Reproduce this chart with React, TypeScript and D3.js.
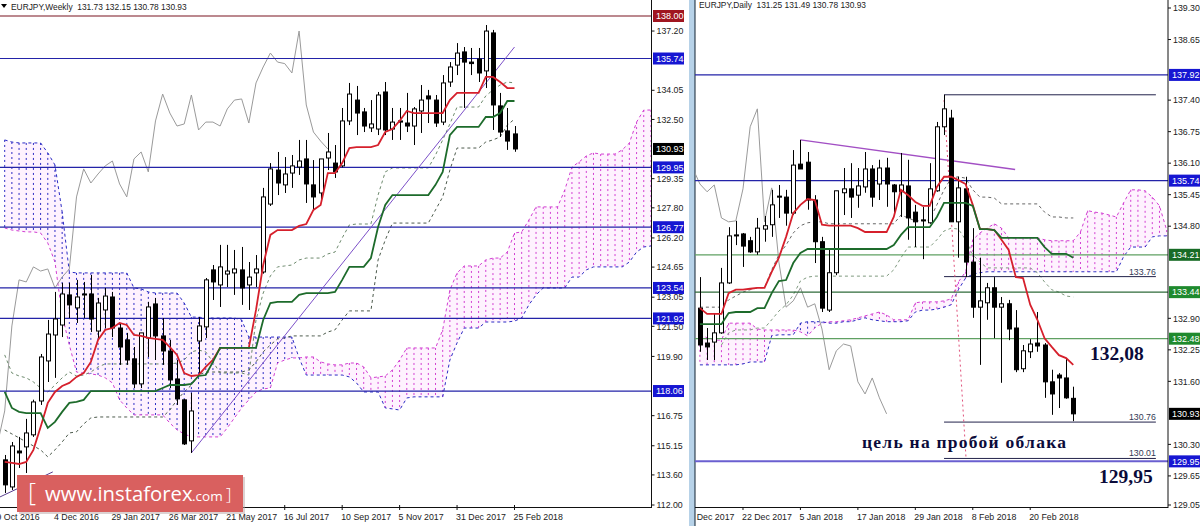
import * as d3 from "d3";

// weekly candles, one per bar
const weeklyOpen = [114.40,112.96,114.87,115.09,115.73,117.53,119.66,121.04,121.57,123.17,122.48,123.22,123.22,121.25,122.37,123.06,121.41,120.78,119.77,118.44,120.88,122.69,120.99,120.19,118.70,117.59,115.41,120.72,121.47,124.50,123.70,124.28,124.34,124.50,123.70,124.34,124.39,128.00,129.81,129.02,129.65,129.97,130.40,129.02,128.59,130.45,130.18,130.03,132.42,133.53,132.90,132.05,131.99,133.96,131.99,132.42,132.31,132.15,132.95,133.75,133.53,132.36,134.49,135.39,136.09,135.55,135.71,135.08,137.10,133.22,131.89,131.73];
const weeklyHigh = [114.66,115.35,115.62,116.58,117.60,120.03,121.84,123.33,123.81,123.81,123.97,123.86,124.23,123.01,123.54,123.33,121.68,121.15,120.40,121.15,122.80,123.01,121.94,120.78,119.71,117.64,117.96,121.99,124.07,124.76,125.83,125.83,125.56,125.72,124.92,125.29,128.86,130.18,130.77,130.50,130.61,131.41,131.41,130.34,130.40,131.78,131.14,133.11,134.44,134.28,133.11,133.53,133.96,134.49,133.11,133.11,133.91,133.16,134.33,134.07,133.80,134.86,135.55,136.56,136.35,136.30,136.30,137.52,137.26,133.91,133.11,132.15];
const weeklyLow = [112.64,112.80,113.97,113.70,115.62,117.32,118.54,118.76,120.93,121.94,121.68,121.94,121.20,120.88,121.41,120.93,119.45,119.45,118.22,118.22,119.87,119.71,119.45,118.22,117.32,115.19,114.77,118.91,120.88,122.90,122.53,123.59,123.17,122.64,122.37,123.59,124.30,127.90,128.48,128.59,128.86,129.55,128.06,127.69,128.22,129.81,129.39,129.95,132.20,131.67,131.83,131.83,131.67,131.67,131.41,131.41,131.83,131.14,131.78,132.31,132.10,132.20,134.23,134.86,133.11,134.86,134.49,134.17,131.94,131.57,130.88,130.78];
const weeklyClose = [113.07,115.14,114.77,115.83,117.48,119.87,121.09,121.89,123.22,122.64,123.06,123.17,121.89,122.74,123.11,121.41,120.40,119.71,118.44,121.15,122.53,120.99,120.19,118.65,117.64,115.25,117.00,121.52,123.97,123.86,124.66,124.44,124.55,123.54,124.12,124.55,128.38,129.87,129.12,129.60,130.03,130.29,129.07,128.38,130.40,130.77,129.71,132.42,133.85,132.84,132.15,132.26,133.80,131.94,132.36,132.36,132.15,133.06,133.53,133.59,132.31,134.44,135.29,136.03,135.55,135.47,134.97,137.20,133.27,131.83,131.35,130.93];

const weeklyTenkan = [114.29,114.24,114.18,114.29,114.93,116.15,117.43,118.01,118.33,118.49,118.81,119.02,119.61,120.78,121.31,121.41,121.68,121.57,121.04,120.99,120.88,120.83,120.78,120.40,119.98,119.02,118.86,118.91,119.34,119.71,120.35,120.35,120.35,120.35,120.35,122.37,124.76,126.36,126.62,126.62,126.62,126.84,126.94,127.69,127.95,129.65,129.65,130.18,130.98,131.03,131.03,131.03,131.14,131.83,131.99,132.42,132.95,132.84,132.84,132.84,132.84,132.84,133.53,133.91,133.91,133.91,133.91,134.76,134.76,134.49,134.17,134.17];
const weeklyKijun = [118.01,117.16,116.95,116.89,116.89,116.89,116.10,116.42,116.95,117.43,117.48,117.59,118.06,118.06,118.06,118.06,118.06,118.06,118.06,118.06,118.06,118.06,118.22,118.38,118.38,118.38,118.44,118.86,118.91,119.61,120.35,120.35,120.35,120.35,120.35,120.35,121.84,122.74,122.80,122.80,122.80,123.17,123.27,123.27,123.27,123.27,123.33,123.97,124.66,124.66,124.66,125.13,126.78,127.95,128.48,128.48,128.48,128.48,128.48,128.48,129.02,129.71,131.67,132.10,132.10,132.10,132.10,132.63,132.63,132.84,133.48,133.48];
const weeklyUpperDash = [119.98,119.02,118.86,118.76,118.54,118.22,118.01,118.38,118.76,119.07,118.86,118.91,119.07,119.34,119.50,119.50,119.50,119.50,119.50,119.50,119.50,119.50,119.50,119.50,119.55,119.71,120.14,120.24,120.14,119.61,119.02,119.02,119.02,119.02,118.91,121.84,123.27,124.18,124.66,124.71,124.76,125.03,125.13,125.13,125.13,125.35,125.45,126.20,126.89,126.94,126.94,126.94,128.48,129.71,129.92,129.92,129.92,129.92,129.92,129.92,130.61,131.41,132.26,133.16,133.16,133.16,133.16,133.75,134.07,134.33,134.49,134.44];
const weeklyLowerDash = [115.99,115.78,115.57,115.35,115.14,114.93,114.56,114.93,115.35,115.83,115.89,116.31,116.63,116.68,116.68,116.68,116.68,116.68,116.68,116.68,116.68,116.68,116.68,117.05,117.59,118.01,118.38,118.91,119.07,119.07,119.07,119.07,119.07,119.07,119.18,119.61,120.14,120.51,120.83,120.88,120.99,120.99,120.99,120.99,120.99,121.20,121.31,121.84,122.32,122.32,122.32,122.32,125.03,126.09,126.99,126.99,126.99,126.99,126.99,126.99,127.69,128.38,129.81,130.98,130.98,130.98,130.98,131.30,131.41,131.57,132.20,132.52];
// lagging line starts one bar before the first candle
const weeklyLagging = [115.25,117.00,121.52,123.97,123.86,124.66,124.44,124.55,123.54,124.12,124.55,128.38,129.87,129.12,129.60,130.03,130.29,129.07,128.38,130.40,130.77,129.71,132.42,133.85,132.84,132.15,132.26,133.80,131.94,132.36,132.36,132.15,133.06,133.53,133.59,132.31,134.44,135.29,136.03,135.55,135.47,134.97,137.20,133.27,131.83,131.35,130.93];
const weeklySpanA = [126.73,126.62,126.57,126.52,126.52,126.46,125.93,124.92,122.10,120.51,119.07,119.02,118.97,118.91,118.76,118.49,117.59,117.16,116.79,116.79,116.79,116.79,116.79,116.36,115.99,115.78,115.62,115.62,115.62,115.62,115.62,116.10,116.63,117.16,117.59,118.01,118.17,118.22,119.55,119.71,119.82,119.82,119.87,119.87,119.61,119.50,119.45,119.45,119.55,119.55,119.34,118.76,118.81,118.86,119.18,119.71,120.35,120.35,120.35,120.35,120.35,121.31,123.43,124.34,124.71,124.71,124.71,125.03,125.13,125.13,125.45,126.46,126.52,127.15,127.85,127.85,127.85,127.85,128.75,129.97,130.24,130.56,130.72,130.66,130.66,130.66,130.88,131.25,132.36,133.00,133.00];
const weeklySpanB = [131.41,131.30,131.25,131.25,131.25,131.25,130.72,130.08,127.58,124.39,124.34,124.34,124.34,124.34,124.34,124.34,124.34,124.34,123.54,123.49,123.33,123.27,123.27,123.27,123.27,122.74,121.99,121.99,121.94,121.94,121.94,121.94,121.94,121.84,120.93,120.93,120.93,120.93,120.93,120.93,120.93,119.82,118.91,118.91,118.91,118.91,118.91,118.91,118.81,118.49,118.01,118.01,118.01,117.16,117.11,117.05,117.69,117.75,117.75,117.75,117.75,117.75,119.71,120.62,121.41,121.41,121.41,121.73,121.73,121.73,121.73,121.78,121.94,122.64,123.17,123.54,123.54,123.54,123.54,124.12,124.12,124.50,124.66,124.66,124.66,124.66,124.66,124.92,125.45,125.72,125.77];

const weeklyBlueLevels = [135.74,129.95,126.77,123.54,121.92,118.06];
const weeklyRedLevels = [138.00];
const weeklyTicks = [137.20,134.05,132.50,129.35,127.80,126.20,124.65,123.05,121.50,119.90,116.75,115.15,113.60,112.00];
const weeklyDateIdx = [-1,7,15,23,31,39,47,55,63,71];
const weeklyDates = ["9 Oct 2016","4 Dec 2016","29 Jan 2017","26 Mar 2017","21 May 2017","16 Jul 2017","10 Sep 2017","5 Nov 2017","31 Dec 2017","25 Feb 2018"];

// daily candles
const dailyOpen = [133.11,132.39,132.41,132.60,133.63,134.62,134.64,134.50,134.27,134.74,134.83,135.42,135.40,135.07,136.08,136.12,135.34,134.48,133.07,133.84,135.49,135.57,135.44,135.61,135.98,135.67,136.00,135.65,135.51,135.63,135.09,134.93,134.87,135.53,136.85,137.03,134.89,135.57,134.06,133.13,133.22,133.53,133.13,133.20,132.70,131.86,132.21,132.39,132.35,131.59,131.73,131.67,131.25];
const dailyHigh = [133.75,132.70,133.01,133.94,134.78,134.91,134.66,134.58,134.97,135.01,135.55,135.65,135.55,136.37,136.58,136.33,135.44,134.58,134.31,135.53,136.00,136.10,136.00,136.33,136.06,136.17,136.21,135.67,136.31,136.17,135.24,135.20,136.10,136.95,137.51,137.20,135.82,135.82,134.76,134.15,133.63,133.75,133.34,133.28,133.07,132.35,132.47,133.03,132.39,131.84,131.77,132.08,131.49];
const dailyLow = [132.21,132.04,132.04,132.58,133.61,134.41,133.96,134.25,134.21,134.48,134.58,134.97,134.81,135.03,135.98,135.14,134.04,133.03,133.03,133.79,135.03,134.97,135.18,135.49,135.20,135.34,135.20,135.03,134.99,134.52,134.37,134.12,134.85,135.51,136.68,134.89,134.15,133.75,132.91,131.94,132.87,132.49,131.57,132.45,131.79,131.79,132.08,132.21,131.26,130.91,131.05,131.24,130.78];
const dailyClose = [132.35,132.31,132.60,133.63,134.60,134.60,134.39,134.27,134.76,134.81,135.24,135.40,135.07,136.06,135.98,135.34,134.48,133.11,133.84,135.53,135.57,135.40,135.63,135.98,135.40,136.00,135.67,135.51,135.65,134.97,134.89,134.91,135.57,136.85,137.22,134.89,135.59,134.06,133.13,133.26,133.53,133.13,133.20,132.68,131.84,132.23,132.37,132.33,131.59,131.34,131.67,131.26,130.93];

const dailyTenkan = [133.11,132.99,132.99,132.99,133.42,133.49,133.49,133.51,133.53,133.53,133.86,134.15,134.58,135.07,135.24,135.36,135.34,134.83,134.81,134.81,134.81,134.81,134.76,134.68,134.68,134.68,134.68,134.99,135.55,135.44,135.30,135.22,135.22,135.61,135.82,135.82,135.75,135.67,135.24,134.74,134.74,134.72,134.52,134.31,133.75,133.73,133.18,132.87,132.49,132.31,132.14,132.08,131.94];
const dailyKijun = [132.78,132.78,132.78,132.78,133.01,133.03,133.03,133.03,133.11,133.11,133.42,133.67,133.69,134.04,134.25,134.33,134.33,134.33,134.33,134.33,134.33,134.33,134.33,134.33,134.33,134.33,134.33,134.41,134.62,134.78,134.78,134.78,134.78,134.99,135.28,135.28,135.28,135.28,135.22,134.74,134.74,134.72,134.56,134.56,134.56,134.56,134.56,134.56,134.37,134.23,134.23,134.23,134.15];
const dailyUpperDash = [133.13,133.13,133.13,133.13,133.28,133.36,133.44,133.49,133.53,133.53,133.90,134.21,134.41,134.66,134.81,134.87,134.89,134.89,134.85,134.85,134.85,134.85,134.85,134.85,134.85,134.85,134.85,134.85,135.03,134.97,134.91,134.91,134.93,135.24,135.55,135.79,135.82,135.79,135.55,135.40,135.40,135.38,135.26,135.26,135.26,135.26,135.26,135.26,135.09,134.99,134.99,134.97,134.97];
const dailyLowerDash = [null,null,null,132.35,132.60,132.66,132.66,132.66,132.70,132.70,132.87,133.05,133.18,133.38,133.67,133.75,133.77,133.77,133.77,133.77,133.77,133.77,133.77,133.77,133.77,133.77,133.77,133.90,134.15,134.37,134.37,134.37,134.37,134.52,134.70,134.76,134.74,134.52,134.21,134.06,133.94,133.94,133.94,133.94,133.94,133.94,133.94,133.84,133.65,133.49,133.44,133.36,133.34];
const dailyLagging = [136.00,135.67,135.51,135.65,134.97,134.89,134.91,135.57,136.85,137.22,134.89,135.59,134.06,133.13,133.26,133.53,133.13,133.20,132.68,131.84,132.23,132.37,132.33,131.59,131.34,131.67,131.26,130.93];
const dailySpanA = [132.56,132.50,132.45,132.45,132.80,132.80,132.80,132.80,132.68,132.66,132.66,132.66,132.66,132.66,132.62,132.54,132.70,132.80,132.83,132.83,132.85,132.87,132.91,132.95,132.99,133.03,132.97,132.87,132.87,132.87,133.22,133.24,133.24,133.24,133.26,133.30,133.65,133.86,134.52,134.66,134.76,134.85,134.76,134.56,134.56,134.56,134.56,134.56,134.52,134.50,134.50,134.50,134.50,134.68,135.12,135.09,135.07,135.03,134.99,135.28,135.55,135.55,135.53,135.40,135.22,134.72];
const dailySpanB = [131.94,131.94,131.94,131.94,131.94,131.94,131.96,132.00,132.00,132.00,132.54,132.56,132.56,132.56,132.80,132.83,132.83,132.83,132.80,132.80,132.83,132.83,132.87,132.91,132.87,132.85,132.83,132.83,132.83,132.85,133.03,133.07,133.07,133.09,133.13,133.18,133.49,133.73,133.81,133.84,133.86,133.86,133.86,133.86,133.86,133.86,133.86,133.86,133.86,133.86,133.86,133.86,133.86,133.86,133.86,133.86,133.86,133.86,133.86,134.17,134.37,134.37,134.37,134.58,134.60,134.60];

const dailyBlueLevels = [137.92,135.74];
const dailyGreenLevels = [134.21,133.44,132.48];
const dailyTargetLevel = 129.95;
const dailyTicks = [139.30,138.65,137.40,136.75,136.10,135.45,134.80,132.90,132.25,131.60,130.30,129.65,129.05];
const dailyDateIdx = [-2,6,14,22,30,38,46];
const dailyDates = ["12 Dec 2017","22 Dec 2017","5 Jan 2018","17 Jan 2018","29 Jan 2018","8 Feb 2018","20 Feb 2018"];
const dailySegments = [137.51,133.76,130.76,130.01];
const dailySegmentLabels = ["","133.76","130.76","130.01"];

const FONT = "'Liberation Sans', Arial, sans-serif";
const BLUE = "#2323a8";

const yW = d3.scaleLinear().domain([112, 138]).range([505, 16]);
const xW = d3.scaleLinear().domain([0, 71]).range([4.7, 514.5]);
const yD = d3.scaleLinear().domain([129.05, 139.3]).range([505, 8]);
const xD = d3.scaleLinear().domain([0, 52]).range([699.9, 1073.3]);

type Scale = d3.ScaleLinear<number, number>;
type Val = number | null;

const lineOf = (x: Scale, y: Scale, values: Val[], offset = 0) =>
  d3
    .line<Val>()
    .defined((d) => d !== null)
    .x((_, i) => x(i + offset))
    .y((d) => y(d as number))(values) ?? "";

function Candles({ x, y, o, h, l, c }: { x: Scale; y: Scale; o: number[]; h: number[]; l: number[]; c: number[] }) {
  return (
    <g>
      {o.map((open, i) => {
        const px = Math.round(x(i)) + 0.5;
        const up = c[i] >= open;
        const top = y(Math.max(open, c[i]));
        const bot = y(Math.min(open, c[i]));
        return (
          <g key={i}>
            <line x1={px} x2={px} y1={y(h[i])} y2={y(l[i])} stroke="#000" strokeWidth={1} />
            <rect
              x={px - 2}
              y={top}
              width={4}
              height={Math.max(bot - top, 1)}
              fill={up ? "#fff" : "#000"}
              stroke="#000"
              strokeWidth={1}
            />
          </g>
        );
      })}
    </g>
  );
}

function Cloud({ x, y, a, b }: { x: Scale; y: Scale; a: number[]; b: number[] }) {
  const tint = d3
    .area<number>()
    .x((_, i) => x(i))
    .y0((d) => y(d))
    .y1((_, i) => y(b[i]));
  return (
    <g>
      <path d={tint(a) ?? ""} fill="#f020f0" fillOpacity={0.06} />
      {a.map((v, i) => (
        <line
          key={i}
          x1={x(i)}
          x2={x(i)}
          y1={y(Math.max(v, b[i]))}
          y2={y(Math.min(v, b[i]))}
          stroke={v >= b[i] ? "#d23fd2" : "#2b2bc4"}
          strokeWidth={1}
          strokeDasharray="2 3"
        />
      ))}
      <path d={lineOf(x, y, a)} fill="none" stroke="#d23fd2" strokeWidth={1} strokeDasharray="3 3" />
      <path d={lineOf(x, y, b)} fill="none" stroke="#2b2bc4" strokeWidth={1} strokeDasharray="3 3" />
    </g>
  );
}

function PriceTag({ x, width, y, value, fill }: { x: number; width: number; y: number; value: number; fill: string }) {
  return (
    <g>
      <rect x={x} y={y - 6} width={width} height={12} fill={fill} />
      <text x={x + 3} y={y + 3.3} fill="#fff" fontSize={9}>
        {value.toFixed(2)}
      </text>
    </g>
  );
}

function Axis({ axisX, y, ticks }: { axisX: number; y: Scale; ticks: number[] }) {
  return (
    <g>
      <line x1={axisX} x2={axisX} y1={0} y2={508} stroke="#111" />
      {ticks.map((t) => (
        <g key={t}>
          <line x1={axisX} x2={axisX + 3} y1={y(t)} y2={y(t)} stroke="#111" />
          <text x={axisX + 5} y={y(t) + 3.2} fontSize={8.8} fill="#222">
            {t.toFixed(2)}
          </text>
        </g>
      ))}
    </g>
  );
}

function DateAxis({ x, idx, labels, x0, x1 }: { x: Scale; idx: number[]; labels: string[]; x0: number; x1: number }) {
  return (
    <g>
      <line x1={x0} x2={x1} y1={507.5} y2={507.5} stroke="#111" />
      {idx.map((d, i) => (
        <g key={d}>
          <line x1={x(d)} x2={x(d)} y1={505} y2={510} stroke="#111" />
          <text x={x(d) - 1} y={519.5} fontSize={8.8} fill="#222">
            {labels[i]}
          </text>
        </g>
      ))}
    </g>
  );
}

export default function App() {
  return (
    <svg
      width={1200}
      height={526}
      viewBox="0 0 1200 526"
      style={{ position: "absolute", left: 0, top: 0, background: "#fff" }}
      fontFamily={FONT}
    >
      <defs>
        <clipPath id="clipW">
          <rect x={0} y={0} width={651} height={507} />
        </clipPath>
        <clipPath id="clipD">
          <rect x={695} y={0} width={473} height={507} />
        </clipPath>
        <clipPath id="clipDates">
          <rect x={695} y={508} width={473} height={18} />
        </clipPath>
      </defs>

      {/* weekly panel */}
      <g clipPath="url(#clipW)">
        <Cloud x={xW} y={yW} a={weeklySpanA} b={weeklySpanB} />
        <path d={lineOf(xW, yW, weeklyLagging, -1)} fill="none" stroke="#9a9a9a" strokeWidth={1} />
        <path d={lineOf(xW, yW, weeklyUpperDash)} fill="none" stroke="#6d8a6d" strokeWidth={1} strokeDasharray="3 3" />
        <path d={lineOf(xW, yW, weeklyLowerDash)} fill="none" stroke="#4c5a4c" strokeWidth={1} strokeDasharray="3 3" />
        {weeklyBlueLevels.map((v) => (
          <line key={v} x1={0} x2={651} y1={yW(v)} y2={yW(v)} stroke={BLUE} strokeWidth={1.2} />
        ))}
        {weeklyRedLevels.map((v) => (
          <line key={v} x1={0} x2={651} y1={yW(v)} y2={yW(v)} stroke="#7a1420" strokeWidth={1.2} />
        ))}
        <line x1={xW(26)} x2={xW(71)} y1={yW(114.77)} y2={yW(136.35)} stroke="#7b4fc8" strokeWidth={1} />
        <line x1={xW(-0.65)} x2={xW(6.7)} y1={yW(112.43)} y2={yW(113.76)} stroke="#5a3f90" strokeWidth={1} />
        <Candles x={xW} y={yW} o={weeklyOpen} h={weeklyHigh} l={weeklyLow} c={weeklyClose} />
        <path d={lineOf(xW, yW, weeklyTenkan)} fill="none" stroke="#d6202c" strokeWidth={1.8} />
        <path d={lineOf(xW, yW, weeklyKijun)} fill="none" stroke="#1d6b2b" strokeWidth={1.8} />
      </g>
      <Axis axisX={651.5} y={yW} ticks={weeklyTicks} />
      <DateAxis x={xW} idx={weeklyDateIdx} labels={weeklyDates} x0={0} x1={651.5} />
      {weeklyRedLevels.map((v) => (
        <PriceTag key={v} x={653} width={31} y={yW(v)} value={v} fill="#a01520" />
      ))}
      {weeklyBlueLevels.map((v) => (
        <PriceTag key={v} x={653} width={31} y={yW(v)} value={v} fill="#1616d2" />
      ))}
      <PriceTag x={653} width={31} y={yW(130.93)} value={130.93} fill="#000" />
      <path d="M1,4 L7,4 L4,8 Z" fill="#000" />
      <text x={11} y={10} fontSize={8.4} fill="#222" xmlSpace="preserve">
        EURJPY,Weekly  131.73 132.15 130.78 130.93
      </text>

      {/* separator */}
      <rect x={689} y={0} width={6} height={526} fill="#b7d2e8" />
      <line x1={695} x2={695} y1={0} y2={526} stroke="#123" />

      {/* daily panel */}
      <g clipPath="url(#clipD)">
        <Cloud x={xD} y={yD} a={dailySpanA} b={dailySpanB} />
        <path d={lineOf(xD, yD, dailyLagging, -1)} fill="none" stroke="#9a9a9a" strokeWidth={1} />
        <path d={lineOf(xD, yD, dailyUpperDash)} fill="none" stroke="#666" strokeWidth={1} strokeDasharray="3 3" />
        <path d={lineOf(xD, yD, dailyLowerDash)} fill="none" stroke="#7f9a7f" strokeWidth={1} strokeDasharray="3 3" />
        {dailyBlueLevels.map((v) => (
          <line key={v} x1={695} x2={1168} y1={yD(v)} y2={yD(v)} stroke={BLUE} strokeWidth={1.2} />
        ))}
        {dailyGreenLevels.map((v, i) => (
          <line key={v} x1={695} x2={1168} y1={yD(v)} y2={yD(v)} stroke={i === 1 ? "#2f6b3a" : "#5fa062"} strokeWidth={1.2} />
        ))}
        <line x1={695} x2={1168} y1={yD(dailyTargetLevel)} y2={yD(dailyTargetLevel)} stroke="#6a5fd0" strokeWidth={2} />
        {dailySegments.map((v) => (
          <line key={v} x1={xD(34)} x2={xD(63.5)} y1={yD(v)} y2={yD(v)} stroke="#22224a" strokeWidth={1} />
        ))}
        <line x1={xD(14)} x2={xD(43.9)} y1={yD(136.58)} y2={yD(135.97)} stroke="#a24fc4" strokeWidth={1.4} />
        <line x1={xD(34)} x2={xD(37.06)} y1={yD(137.4)} y2={yD(130.02)} stroke="#e0507a" strokeWidth={1} strokeDasharray="2 3" />
        <Candles x={xD} y={yD} o={dailyOpen} h={dailyHigh} l={dailyLow} c={dailyClose} />
        <path d={lineOf(xD, yD, dailyTenkan)} fill="none" stroke="#d6202c" strokeWidth={1.8} />
        <path d={lineOf(xD, yD, dailyKijun)} fill="none" stroke="#1d6b2b" strokeWidth={1.8} />
      </g>
      <Axis axisX={1168} y={yD} ticks={dailyTicks} />
      <g clipPath="url(#clipDates)">
        <DateAxis x={xD} idx={dailyDateIdx} labels={dailyDates} x0={695} x1={1168} />
      </g>
      <line x1={695} x2={1168} y1={507.5} y2={507.5} stroke="#111" />
      {dailyBlueLevels.map((v) => (
        <PriceTag key={v} x={1169} width={31} y={yD(v)} value={v} fill="#1616d2" />
      ))}
      <PriceTag x={1169} width={31} y={yD(134.21)} value={134.21} fill="#176b25" />
      <PriceTag x={1169} width={31} y={yD(133.44)} value={133.44} fill="#1f8a2e" />
      <PriceTag x={1169} width={31} y={yD(132.48)} value={132.48} fill="#1f8a2e" />
      <PriceTag x={1169} width={31} y={yD(130.93)} value={130.93} fill="#000" />
      <PriceTag x={1169} width={31} y={yD(dailyTargetLevel)} value={dailyTargetLevel} fill="#1616d2" />
      <text x={699} y={7.5} fontSize={8.4} fill="#222" xmlSpace="preserve">
        EURJPY,Daily  131.25 131.49 130.78 130.93
      </text>
      {dailySegments.map((v, i) =>
        dailySegmentLabels[i] ? (
          <text key={v} x={xD(63.5)} y={yD(v) - 2} textAnchor="end" fontSize={8.8} fill="#333a55">
            {dailySegmentLabels[i]}
          </text>
        ) : null,
      )}

      {/* annotations */}
      <g fontFamily="'Liberation Serif', serif" fontWeight="bold" fill="#0b0b3a">
        <text x={1090} y={360} fontSize={19.5}>132,08</text>
        <text x={1099} y={483} fontSize={19.5}>129,95</text>
        <text x={862} y={448} fontSize={17.5} letterSpacing={1.25}>цель на пробой облака</text>
      </g>

      {/* watermark */}
      <rect x={19} y={477} width={226} height={37} fill="#b9a5a5" fillOpacity={0.5} />
      <rect x={17} y={475} width={226} height={37} fill="#d9605f" />
      <text x={28} y={501} fontSize={25} fill="#fff" fontFamily="'Open Sans', sans-serif" fontWeight={300}>[</text>
      <text x={45} y={501} fontSize={20.3} fill="#fff" fontFamily="'Open Sans', sans-serif">www.instaforex</text>
      <text x={192} y={501} fontSize={13.5} fill="#fff" fontFamily="'Open Sans', sans-serif">.com</text>
      <text x={226} y={500} fontSize={17} fill="#fff" fontFamily="'Open Sans', sans-serif" fontWeight={300}>]</text>
    </svg>
  );
}
